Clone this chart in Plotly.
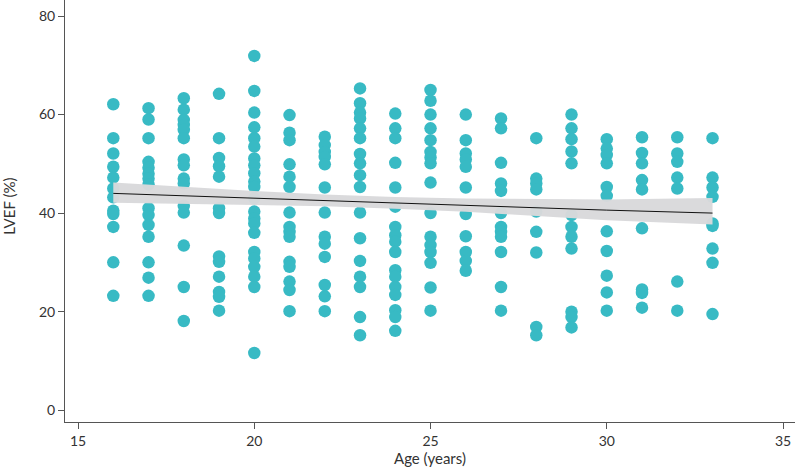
import plotly.graph_objects as go

# LVEF (%) values read for each age (years)
lvef_16 = [62.1, 55.2, 52.1, 49.4, 47.2, 45.0, 43.2, 40.5, 39.8, 37.2, 30.0, 23.2]
lvef_17 = [61.3, 59.0, 55.2, 50.4, 49.2, 48.0, 47.0, 45.8, 41.0, 39.6, 37.6, 35.2, 30.0, 26.9, 23.2]
lvef_18 = [63.3, 61.0, 58.9, 57.9, 56.9, 55.2, 50.9, 49.7, 47.0, 46.0, 41.5, 40.1, 33.4, 25.0, 18.1]
lvef_19 = [64.2, 55.2, 51.2, 49.5, 47.4, 41.0, 40.0, 31.2, 30.1, 27.1, 24.0, 23.0, 20.2]
lvef_20 = [71.9, 64.8, 60.4, 57.4, 55.2, 53.5, 51.1, 49.7, 48.1, 46.4, 45.3, 43.0, 40.3,
           38.9, 37.9, 36.0, 32.1, 30.8, 29.1, 27.1, 25.0, 11.6]
lvef_21 = [59.9, 56.3, 54.8, 49.9, 47.4, 45.3, 40.1, 37.2, 36.2, 35.2, 30.1, 29.1, 26.1, 24.4, 20.1]
lvef_22 = [55.5, 53.8, 52.4, 51.4, 49.9, 45.2, 40.1, 35.2, 33.8, 31.1, 25.4, 23.1, 20.1]
lvef_23 = [65.3, 62.3, 60.4, 59.2, 57.2, 55.2, 52.0, 50.1, 47.7, 45.3, 40.1, 34.9, 30.3,
           27.1, 25.0, 18.9, 15.2]
lvef_24 = [60.2, 57.2, 55.2, 50.2, 45.2, 41.3, 37.2, 35.5, 34.2, 32.1, 28.4, 27.1, 25.0,
           23.4, 20.3, 18.9, 16.1]
lvef_25 = [65.0, 62.8, 60.0, 57.2, 54.8, 52.4, 51.3, 50.1, 46.2, 40.0, 35.2, 33.5, 32.1,
           29.9, 24.9, 20.2]
lvef_26 = [60.0, 54.8, 52.1, 50.9, 49.4, 45.2, 39.8, 35.3, 32.1, 30.3, 28.3]
lvef_27 = [59.2, 57.2, 50.2, 46.0, 44.5, 40.0, 37.2, 36.2, 35.2, 32.1, 25.0, 20.2]
lvef_28 = [55.2, 47.0, 46.0, 44.8, 40.3, 36.2, 32.0, 16.9, 15.2]
lvef_29 = [60.0, 57.2, 55.0, 52.5, 50.1, 39.6, 37.2, 35.2, 32.8, 20.0, 18.9, 16.8]
lvef_30 = [55.0, 53.1, 51.8, 50.1, 45.3, 43.5, 36.3, 32.3, 27.3, 23.9, 20.2]
lvef_31 = [55.4, 52.2, 50.1, 46.7, 44.8, 36.9, 24.5, 23.8, 20.8]
lvef_32 = [55.4, 52.1, 50.4, 47.2, 45.0, 26.1, 20.2]
lvef_33 = [55.2, 47.2, 45.2, 43.3, 37.9, 37.4, 32.8, 29.9, 19.5]

by_age = [(16, lvef_16), (17, lvef_17), (18, lvef_18), (19, lvef_19), (20, lvef_20),
          (21, lvef_21), (22, lvef_22), (23, lvef_23), (24, lvef_24), (25, lvef_25),
          (26, lvef_26), (27, lvef_27), (28, lvef_28), (29, lvef_29), (30, lvef_30),
          (31, lvef_31), (32, lvef_32), (33, lvef_33)]

# Linear fit and its 95% confidence band
fit_age = [16, 18, 20, 22, 24, 26, 28, 30, 33]
fit_lvef = [44.0, 43.5, 43.0, 42.55, 42.05, 41.6, 41.1, 40.6, 40.0]
band_upper = [46.2, 45.3, 44.5, 43.75, 43.25, 42.95, 42.8, 42.75, 43.05]
band_lower = [42.1, 41.9, 41.65, 41.4, 40.9, 40.25, 39.45, 38.55, 37.7]

x_ticks = [15, 20, 25, 30, 35]
y_ticks = [0, 20, 40, 60, 80]

ages = [a for a, vals in by_age for _ in vals]
lvef = [v for _, vals in by_age for v in vals]

teal = "#38BAC4"
font = "Lato, 'Source Sans Pro', 'Noto Sans', sans-serif"
txt = "#333333"

fig = go.Figure()
fig.add_trace(go.Scatter(x=ages, y=lvef, mode="markers",
                         marker=dict(size=12.5, color=teal, line=dict(width=0)),
                         hoverinfo="x+y", showlegend=False))
fig.add_trace(go.Scatter(x=fit_age + fit_age[::-1],
                         y=band_upper + band_lower[::-1],
                         fill="toself", fillcolor="rgba(217,217,219,0.97)",
                         line=dict(width=0), mode="lines", hoverinfo="skip",
                         showlegend=False))
fig.add_trace(go.Scatter(x=fit_age, y=fit_lvef, mode="lines",
                         line=dict(color="#111111", width=1),
                         hoverinfo="skip", showlegend=False))

axis_common = dict(showgrid=False, zeroline=False, showline=True, linecolor="#555555",
                   linewidth=1, ticks="outside", ticklen=6, tickcolor="#555555",
                   automargin=False,
                   tickfont=dict(family=font, size=14, color=txt))

fig.update_layout(
    width=797, height=474,
    margin=dict(l=65, r=2, t=0, b=52, autoexpand=False),
    paper_bgcolor="white", plot_bgcolor="white",
    font=dict(family=font, size=14, color=txt),
    xaxis=dict(range=[14.63, 35.34], tickvals=x_ticks, **axis_common),
    yaxis=dict(range=[-2.4, 83.25], tickvals=y_ticks, **axis_common),
    annotations=[
        dict(text="Age (years)", xref="paper", yref="paper", x=0.5, y=0,
             xanchor="center", yanchor="middle", yshift=-36, showarrow=False,
             font=dict(family=font, size=15, color=txt)),
        dict(text="LVEF (%)", xref="paper", yref="paper", x=0, y=0.51,
             xanchor="center", yanchor="middle", xshift=-56, textangle=-90,
             showarrow=False, font=dict(family=font, size=15, color=txt)),
    ],
)

fig.write_html("out.html",
               config={"displayModeBar": False},
               post_script="document.body.style.margin='0';"
                           "document.body.style.overflow='hidden';")
